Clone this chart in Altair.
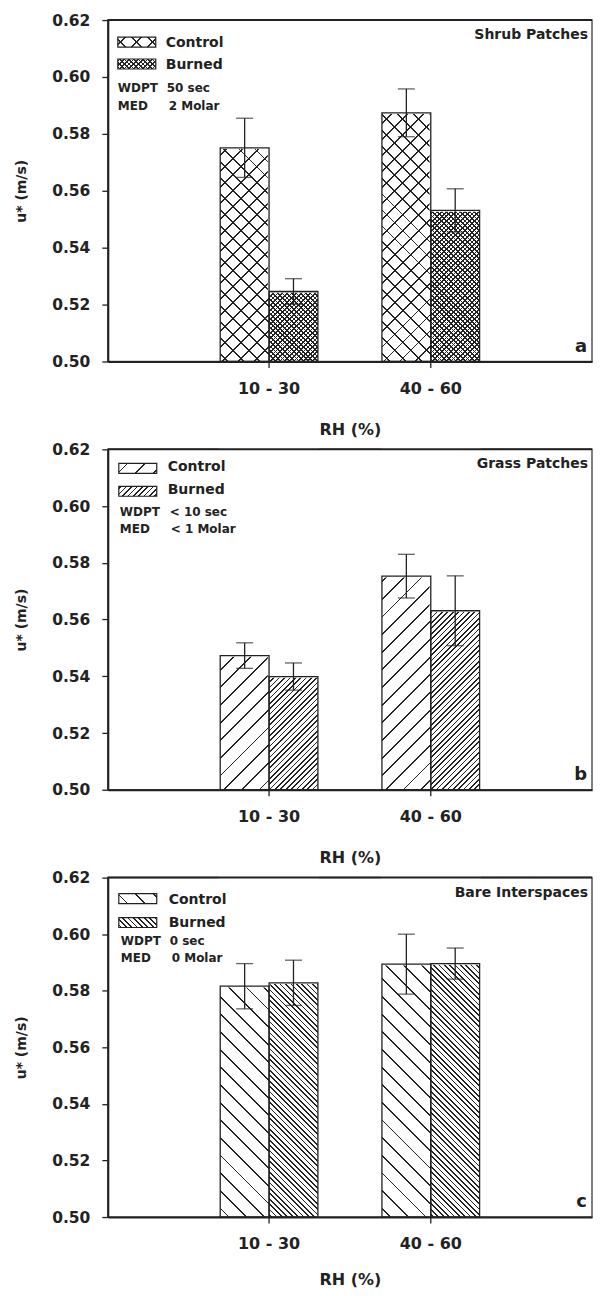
import math
import altair as alt
import pandas as pd

# ---------------- data ----------------
RH = ["10 - 30", "40 - 60"]
SERIES = ["Control", "Burned"]
Y_TICKS = [0.50, 0.52, 0.54, 0.56, 0.58, 0.60, 0.62]

shrub_control = [0.5751, 0.5874]
shrub_control_err = [0.0104, 0.0084]
shrub_burned = [0.5246, 0.5531]
shrub_burned_err = [0.0045, 0.0076]

grass_control = [0.5473, 0.5753]
grass_control_err = [0.0045, 0.0077]
grass_burned = [0.5399, 0.5631]
grass_burned_err = [0.0048, 0.0123]

bare_control = [0.5816, 0.5894]
bare_control_err = [0.0080, 0.0106]
bare_burned = [0.5828, 0.5896]
bare_burned_err = [0.0080, 0.0055]

titles = ["Shrub Patches", "Grass Patches", "Bare Interspaces"]
letters = ["a", "b", "c"]
wdpt = ["50 sec", "< 10 sec", "0 sec"]
med = ["2 Molar", "< 1 Molar", "0 Molar"]

# ---------------- styling ----------------
FONT = "DejaVu Sans"
INK = "#222222"
CLEAR = "rgba(255,255,255,0)"
W = 485
HEIGHTS = [342, 341, 340]
XTITLE_Y = [68, 68, 63]
YTITLE_X = -86
PI, PO = 0.396, 0.695
STEP = W / (2 - PI + 2 * PO)
BAR_W = STEP * (1 - PI) / 2

# hatch patterns per panel: (directions, perpendicular period px, line width px)
PATTERNS = [
    {"Control": (["/", "\\"], 11.3, 1.3), "Burned": (["/", "\\"], 3.3, 1.2)},
    {"Control": (["/"], 12.5, 1.3), "Burned": (["/"], 3.8, 1.2)},
    {"Control": (["\\"], 12.5, 1.3), "Burned": (["\\"], 3.8, 1.2)},
]

# legend layout per panel (offsets from plot top-left)
LEG = [
    {"sx": 10, "sy": [17, 39], "tx": 58, "ty": [23, 45], "wy": [68, 86], "wx": 10, "vx": [59, 61]},
    {"sx": 11, "sy": [14, 37], "tx": 60, "ty": [18, 41], "wy": [63, 80], "wx": 12, "vx": [62, 63]},
    {"sx": 11, "sy": [16, 40], "tx": 61, "ty": [22, 45], "wy": [64, 81], "wx": 13, "vx": [62, 64]},
]


def hatch(w, h, direction, period, lw):
    r = h / w
    k = (1 + r) / (1 + r * r)
    L = w + h
    dt = period * math.sqrt(2) / L
    hw = lw * math.sqrt(2) / L / 2
    stops = [{"offset": 0, "color": CLEAR}]
    c = dt / 2
    while c - hw < 1:
        a = round(max(0.0, c - hw), 5)
        b = round(min(1.0, c + hw), 5)
        stops += [
            {"offset": a, "color": CLEAR},
            {"offset": a, "color": INK},
            {"offset": b, "color": INK},
            {"offset": b, "color": CLEAR},
        ]
        c += dt
    if direction == "/":
        x1, y1, x2, y2 = 0, 0, k, k * r
    else:
        x1, y1, x2, y2 = 0, 1, k, 1 - k * r
    return {"gradient": "linear", "x1": x1, "y1": y1, "x2": x2, "y2": y2, "stops": stops}


one = pd.DataFrame({"k": [0]})


def panel(i, ctrl, ctrl_err, burn, burn_err):
    H = HEIGHTS[i]
    rows = []
    for s, vals, errs in [("Control", ctrl, ctrl_err), ("Burned", burn, burn_err)]:
        for rh, v, e in zip(RH, vals, errs):
            rows.append({"rh": rh, "series": s, "value": v, "lo": v - e, "hi": v + e})
    df = pd.DataFrame(rows)
    base = alt.Chart(df)

    xaxis = alt.Axis(
        title="RH (%)", labelAngle=0, labelFont=FONT, labelFontSize=16, labelFontWeight="bold",
        labelColor=INK, labelPadding=13, tickSize=6, tickWidth=1.3, tickColor=INK,
        domainColor=INK, domainWidth=2, titleFont=FONT, titleFontSize=16,
        titleFontWeight="bold", titleColor=INK, titleY=XTITLE_Y[i], titleBaseline="middle",
    )
    yaxis = alt.Axis(
        values=Y_TICKS, format=".2f", title="u* (m/s)", titleX=YTITLE_X, titleY=H / 2,
        titleAngle=270, titleAlign="center", titleBaseline="middle", titleFont=FONT,
        titleFontSize=14, titleFontWeight="bold", titleColor=INK, labelFont=FONT,
        labelFontSize=15.5, labelFontWeight="bold", labelColor=INK, labelPadding=12,
        tickSize=6, tickWidth=1.3, tickColor=INK, domainColor=INK, domainWidth=2, grid=False,
    )
    yscale = alt.Scale(domain=[0.5, 0.62], nice=False, zero=False)
    x = alt.X("rh:N", scale=alt.Scale(domain=RH, paddingInner=PI, paddingOuter=PO), axis=xaxis)
    xo = alt.XOffset("series:N", scale=alt.Scale(domain=SERIES, paddingInner=0, paddingOuter=0))

    def yf(field):
        return alt.Y(field, type="quantitative", scale=yscale, axis=yaxis)

    def yd(v):
        return alt.YDatum(v, type="quantitative", scale=yscale, axis=yaxis)

    layers = []
    # hatching over the full column, later covered above each bar
    for s in SERIES:
        dirs, period, lw = PATTERNS[i][s]
        for d in dirs:
            layers.append(
                base.transform_filter(alt.datum.series == s)
                .mark_bar(fill=hatch(BAR_W, H, d, period, lw), strokeWidth=0)
                .encode(x=x, xOffset=xo, y=yd(0.62), y2=alt.Y2Datum(0.5))
            )
    # white cover above each bar
    layers.append(
        base.mark_bar(fill="white", stroke="white", strokeWidth=2.5)
        .encode(x=x, xOffset=xo, y=yf("value"), y2=alt.Y2Datum(0.62))
    )
    # bar outlines
    layers.append(
        base.mark_bar(fill="white", fillOpacity=0, stroke=INK, strokeWidth=1.3)
        .encode(x=x, xOffset=xo, y=yf("value"), y2=alt.Y2Datum(0.5))
    )
    # error bars
    layers.append(
        base.mark_rule(color=INK, strokeWidth=1.3)
        .encode(x=x, xOffset=xo, y=yf("lo"), y2="hi:Q")
    )
    for f in ["lo", "hi"]:
        layers.append(
            base.mark_tick(color=INK, thickness=1.3, size=17, orient="horizontal")
            .encode(x=x, xOffset=xo, y=yf(f))
        )
    # top frame line
    layers.append(alt.Chart(one).mark_rule(color=INK, strokeWidth=2).encode(y=yd(0.62)))

    # legend swatches and labels
    lg = LEG[i]
    for j, s in enumerate(SERIES):
        dirs, period, lw = PATTERNS[i][s]
        sx, sy = lg["sx"], lg["sy"][j]
        for d in dirs:
            layers.append(
                alt.Chart(one).mark_rect(fill=hatch(38, 10, d, period, lw), strokeWidth=0)
                .encode(x=alt.value(sx), x2=alt.value(sx + 38), y=alt.value(sy), y2=alt.value(sy + 10))
            )
        layers.append(
            alt.Chart(one).mark_rect(fill="white", fillOpacity=0, stroke=INK, strokeWidth=1.2)
            .encode(x=alt.value(sx), x2=alt.value(sx + 38), y=alt.value(sy), y2=alt.value(sy + 10))
        )
        layers.append(
            alt.Chart(one).mark_text(text=s, align="left", baseline="middle", font=FONT,
                                     fontSize=14, fontWeight="bold", color=INK)
            .encode(x=alt.value(lg["tx"]), y=alt.value(lg["ty"][j]))
        )
    for j, (lab, val) in enumerate([("WDPT", wdpt[i]), ("MED", med[i])]):
        for txt, xx in [(lab, lg["wx"]), (val, lg["vx"][j])]:
            layers.append(
                alt.Chart(one).mark_text(text=txt, align="left", baseline="middle", font=FONT,
                                         fontSize=12, fontWeight="bold", color=INK)
                .encode(x=alt.value(xx), y=alt.value(lg["wy"][j]))
            )
    # panel title and letter
    layers.append(
        alt.Chart(one).mark_text(text=titles[i], align="right", baseline="middle", font=FONT,
                                 fontSize=14, fontWeight="bold", color=INK)
        .encode(x=alt.value(W - 4), y=alt.value(15))
    )
    layers.append(
        alt.Chart(one).mark_text(text=letters[i], align="right", baseline="middle", font=FONT,
                                 fontSize=18, fontWeight="bold", color=INK)
        .encode(x=alt.value(W - 5), y=alt.value(H - 15))
    )
    return alt.layer(*layers).properties(width=W, height=H)


pa = panel(0, shrub_control, shrub_control_err, shrub_burned, shrub_burned_err)
pb = panel(1, grass_control, grass_control_err, grass_burned, grass_burned_err)
pc = panel(2, bare_control, bare_control_err, bare_burned, bare_burned_err)

chart = (
    alt.vconcat(pa, pb, pc, spacing=3)
    .properties(padding={"left": 6, "top": 3, "right": 0, "bottom": 0})
    .configure_view(stroke="#555555", strokeWidth=1.5)
)

chart.save("out.html", embed_options={"renderer": "svg", "actions": False})
